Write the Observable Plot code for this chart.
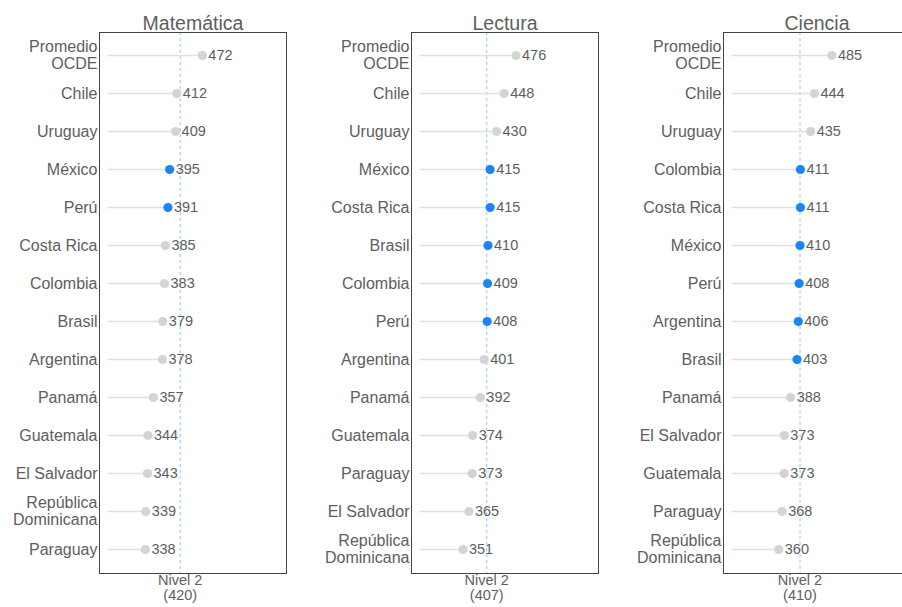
<!DOCTYPE html>
<html>
<head>
<meta charset="utf-8">
<script src="https://cdn.jsdelivr.net/npm/d3@7"></script>
<script src="https://cdn.jsdelivr.net/npm/@observablehq/plot@0.6"></script>
<style>
  html, body { margin: 0; padding: 0; background: #fff; overflow: hidden; }
  #wrap { display: flex; width: 936px; font-family: "Liberation Sans", Arial, sans-serif; }
  #wrap svg { flex: none; font-family: "Liberation Sans", Arial, sans-serif; }
</style>
</head>
<body>
<div id="wrap"></div>
<script>
const titulos = ["Matemática", "Lectura", "Ciencia"];
const niveles = [420, 407, 410];

const mathPaises = ["Promedio\nOCDE","Chile","Uruguay","México","Perú","Costa Rica","Colombia","Brasil","Argentina","Panamá","Guatemala","El Salvador","República\nDominicana","Paraguay"];
const mathValores = [472,412,409,395,391,385,383,379,378,357,344,343,339,338];
const mathDestacados = ["México","Perú"];

const lectPaises = ["Promedio\nOCDE","Chile","Uruguay","México","Costa Rica","Brasil","Colombia","Perú","Argentina","Panamá","Guatemala","Paraguay","El Salvador","República\nDominicana"];
const lectValores = [476,448,430,415,415,410,409,408,401,392,374,373,365,351];
const lectDestacados = ["México","Costa Rica","Brasil","Colombia","Perú"];

const cienPaises = ["Promedio\nOCDE","Chile","Uruguay","Colombia","Costa Rica","México","Perú","Argentina","Brasil","Panamá","El Salvador","Guatemala","Paraguay","República\nDominicana"];
const cienValores = [485,444,435,411,411,410,408,406,403,388,373,373,368,360];
const cienDestacados = ["Colombia","Costa Rica","México","Perú","Argentina","Brasil"];

const paneles = [
  {paises: mathPaises, valores: mathValores, destacados: mathDestacados},
  {paises: lectPaises, valores: lectValores, destacados: lectDestacados},
  {paises: cienPaises, valores: cienValores, destacados: cienDestacados}
];

const xMin = 230, xMax = 670, segInicio = 250;
const gris = "#5e5e5e";
const fuente = "'Liberation Sans', Arial, sans-serif";

paneles.forEach((p, i) => {
  const data = p.paises.map((pais, j) => ({
    pais,
    valor: p.valores[j],
    destacado: p.destacados.includes(pais)
  }));
  const chart = Plot.plot({
    width: 312,
    height: 607,
    marginLeft: 99,
    marginRight: 26,
    marginTop: 32,
    marginBottom: 34,
    style: {fontFamily: fuente, background: "#fff"},
    x: {domain: [xMin, xMax], axis: null},
    y: {type: "point", domain: p.paises, axis: null, padding: 0, insetTop: 22, insetBottom: 24},
    marks: [
      Plot.ruleX([niveles[i]], {stroke: "#9fd0f8", strokeWidth: 1.2, strokeDasharray: "3,3"}),
      Plot.ruleY(data, {y: "pais", x1: segInicio, x2: "valor", stroke: "#e0e0e0", strokeWidth: 1.5}),
      Plot.dot(data, {y: "pais", x: "valor", r: 4.6, fill: d => d.destacado ? "#1a87f0" : "#d4d4d4", stroke: null}),
      Plot.text(data, {y: "pais", x: "valor", text: d => String(d.valor), textAnchor: "start", dx: 6, fontSize: 14.5, fontFamily: fuente, fill: gris}),
      Plot.text(data, {y: "pais", frameAnchor: "left", text: "pais", textAnchor: "end", dx: -2, fontSize: 16, fontFamily: fuente, fill: gris, lineHeight: 1.05}),
      Plot.frame({stroke: "#444", strokeWidth: 1}),
      Plot.text([titulos[i]], {frameAnchor: "top", lineAnchor: "bottom", dy: -3, fontSize: 19.5, fontFamily: fuente, fill: gris}),
      Plot.text([niveles[i]], {x: d => d, frameAnchor: "bottom", lineAnchor: "top", dy: 1, text: d => `Nivel 2\n(${d})`, fontSize: 14.5, fontFamily: fuente, fill: gris, lineHeight: 1.04})
    ]
  });
  document.getElementById("wrap").appendChild(chart);
});
</script>
</body>
</html>
